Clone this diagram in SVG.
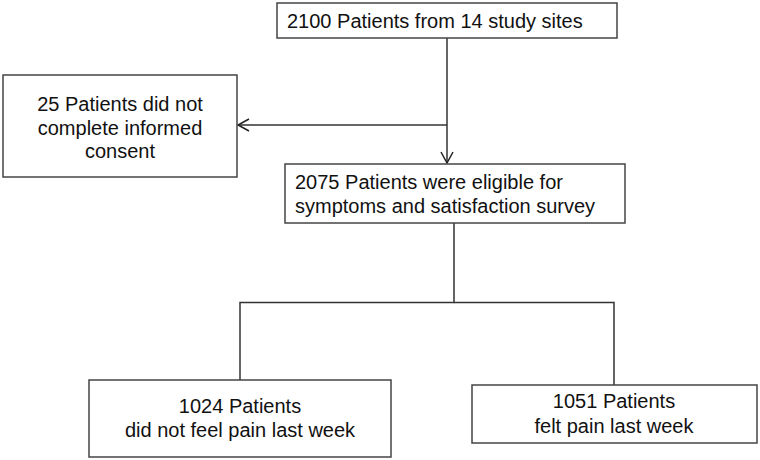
<svg xmlns="http://www.w3.org/2000/svg" width="760" height="460" viewBox="0 0 760 460">
<style>
.box{fill:#fff;stroke:#444;stroke-width:1.5}
.t{font-family:"Liberation Sans",Arial,sans-serif;font-size:20px;fill:#111}
.c{text-anchor:middle}
.ln{fill:none;stroke:#333;stroke-width:1.5}
</style>
<defs>
<marker id="arr" markerWidth="14" markerHeight="14" refX="12" refY="7" orient="auto" markerUnits="userSpaceOnUse">
<path d="M1,1 L12,7 L1,13" fill="none" stroke="#222" stroke-width="1.5"/>
</marker>
</defs>
<rect width="760" height="460" fill="#fff"/>
<g id="connectors">
<line class="ln" x1="447" y1="38" x2="447" y2="163" marker-end="url(#arr)"/>
<line class="ln" x1="447" y1="125" x2="238" y2="125" marker-end="url(#arr)"/>
<polyline class="ln" points="454,223 454,302.5 240,302.5 240,380"/>
<polyline class="ln" points="454,302.5 614,302.5 614,385"/>
</g>
<g id="n1">
<rect class="box" x="277" y="3" width="340" height="35"/>
<text class="t" x="287" y="28">2100 Patients from 14 study sites</text>
</g>
<g id="n2">
<rect class="box" x="3" y="75" width="234" height="102"/>
<text class="t c" x="120" y="111">25 Patients did not</text>
<text class="t c" x="120" y="135">complete informed</text>
<text class="t c" x="120" y="158">consent</text>
</g>
<g id="n3">
<rect class="box" x="285" y="164" width="340" height="59"/>
<text class="t" x="295" y="189">2075 Patients were eligible for</text>
<text class="t" x="295" y="213">symptoms and satisfaction survey</text>
</g>
<g id="n4">
<rect class="box" x="89" y="380" width="302" height="77"/>
<text class="t c" x="240" y="413">1024 Patients</text>
<text class="t c" x="240" y="437">did not feel pain last week</text>
</g>
<g id="n5">
<rect class="box" x="472" y="385" width="285" height="58"/>
<text class="t c" x="614" y="408">1051 Patients</text>
<text class="t c" x="614" y="433">felt pain last week</text>
</g>
</svg>
